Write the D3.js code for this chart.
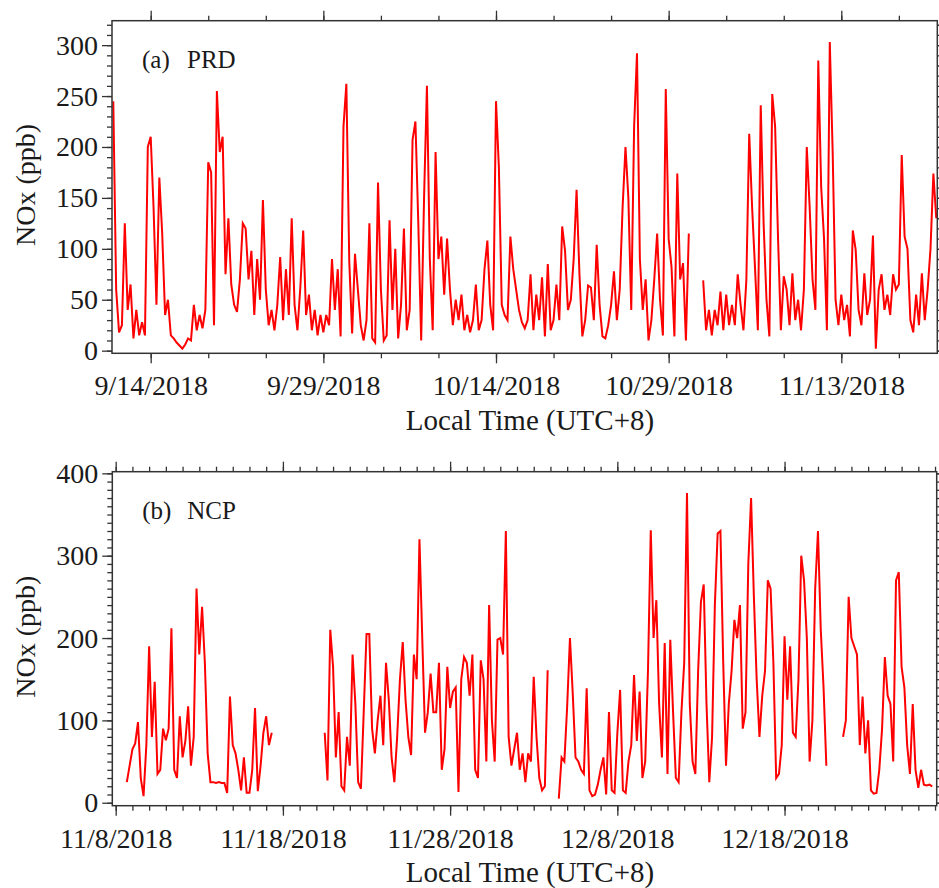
<!DOCTYPE html>
<html>
<head>
<meta charset="utf-8">
<script src="https://cdn.jsdelivr.net/npm/d3@7"></script>
<style>
  body { margin: 0; background: #fff; }
  svg text { font-family: "Liberation Serif", "Times New Roman", serif; fill: #1a1a1a; }
</style>
</head>
<body>
<div id="chart"></div>
<script>
// PRD hourly NOx, read every 6 h off the figure
const prdStart = "2018-09-10T18:00:00Z";
const prdStepHours = 6;
const prdNOx = [
  245, 60, 18, 25, 125, 40, 65, 12, 40, 15,
  28, 15, 200, 210, 140, 45, 170, 115, 35, 50,
  15, 12, 8, 5, 2, 6, 12, 10, 45, 20,
  35, 22, 40, 185, 175, 25, 255, 195, 210, 75,
  130, 65, 45, 38, 70, 125, 120, 70, 98, 35,
  90, 50, 148, 60, 25, 40, 20, 45, 92, 30,
  80, 35, 130, 45, 20, 62, 118, 35, 55, 20,
  40, 15, 35, 18, 35, 25, 90, 40, 80, 14,
  220, 262, 88, 17, 95, 60, 25, 10, 30, 125,
  12, 8, 165, 60, 10, 15, 128, 40, 100, 12,
  45, 120, 20, 40, 207, 225, 125, 10, 150, 260,
  90, 20, 195, 90, 112, 55, 110, 60, 25, 50,
  30, 55, 20, 35, 18, 30, 65, 20, 30, 80,
  108, 45, 20, 245, 180, 45, 35, 30, 112, 80,
  60, 40, 28, 22, 30, 75, 20, 55, 30, 72,
  14, 85, 20, 30, 65, 30, 122, 98, 40, 50,
  90, 158, 75, 14, 30, 64, 62, 30, 104, 45,
  14, 12, 25, 45, 78, 30, 60, 141, 200, 150,
  40, 220, 292, 90, 40, 70, 10, 30, 70, 115,
  50, 15, 257, 110, 82, 14, 174, 70, 86, 10,
  115, null, null, null, null, 69, 20, 40, 15, 40,
  25, 58, 20, 55, 25, 45, 25, 75, 45, 20,
  69, 213, 141, 82, 20, 241, 125, 50, 14, 252,
  220, 112, 20, 73, 60, 25, 76, 30, 50, 20,
  60, 200, 141, 70, 40, 285, 161, 110, 20, 303,
  195, 50, 25, 55, 30, 45, 14, 118, 99, 40,
  25, 76, 35, 50, 113, 2, 60, 75, 40, 55,
  35, 75, 60, 65, 192, 112, 100, 30, 18, 55,
  25, 76, 30, 60, 100, 174, 130
];

// NCP hourly NOx, read every 4 h off the figure
const ncpStart = "2018-11-08T16:00:00Z";
const ncpStepHours = 4;
const ncpNOx = [
  25, 45, 65, 72, 98, 30, 8, 70, 190, 80,
  147, 35, 40, 90, 76, 90, 212, 40, 30, 105,
  55, 75, 117, 45, 80, 260, 180, 238, 170, 60,
  25, 25, 24, 25, 24, 24, 12, 129, 70, 60,
  40, 15, 55, 12, 12, 40, 115, 14, 45, 85,
  105, 70, 85, null, null, null, null, null, null, null,
  null, null, null, null, null, null, null, null, null, null,
  null, 85, 27, 210, 165, 55, 110, 20, 15, 80,
  45, 180, 120, 25, 17, 110, 205, 205, 90, 60,
  100, 130, 70, 170, 125, 55, 25, 80, 150, 195,
  125, 80, 58, 180, 150, 320, 200, 85, 110, 157,
  110, 110, 170, 40, 65, 165, 115, 135, 140, 13,
  150, 177, 170, 130, 180, 40, 30, 173, 150, 50,
  240, 100, 50, 198, 200, 180, 330, 80, 45, 65,
  85, 40, 60, 25, 60, 50, 153, 80, 30, 15,
  20, 161, null, null, null, 5, 55, 50, 117, 200,
  133, 55, 50, 40, 35, 139, 15, 8, 10, 22,
  40, 55, 10, 110, 15, 12, 84, 137, 15, 12,
  50, 70, 155, 75, 135, 30, 50, 160, 331, 200,
  246, 120, 55, 194, 35, 198, 110, 30, 25, 110,
  170, 376, 120, 50, 35, 160, 244, 265, 120, 25,
  80, 240, 327, 330, 170, 45, 120, 160, 222, 200,
  240, 90, 110, 290, 370, 250, 150, 80, 130, 160,
  270, 260, 170, 30, 35, 70, 202, 125, 190, 85,
  80, 150, 300, 270, 200, 50, 100, 260, 330, 210,
  140, 45, null, null, null, null, null, 80, 100, 250,
  200, 190, 180, 70, 129, 60, 100, 15, 11, 12,
  40, 90, 177, 130, 120, 50, 270, 280, 165, 140,
  70, 35, 120, 40, 18, 40, 22, 21, 22, 20
];

const prdTickDates = ["2018-09-14", "2018-09-29", "2018-10-14", "2018-10-29", "2018-11-13"];
const ncpTickDates = ["2018-11-08", "2018-11-18", "2018-11-28", "2018-12-08", "2018-12-18"];
const prdYTicks = [0, 50, 100, 150, 200, 250, 300];
const ncpYTicks = [0, 100, 200, 300, 400];

function toSeries(start, stepHours, values) {
  const t0 = new Date(start).getTime();
  return values.map((v, i) => ({ date: new Date(t0 + i * stepHours * 3600e3), value: v }));
}

const fmtDate = d => `${d.getUTCMonth() + 1}/${d.getUTCDate()}/${d.getUTCFullYear()}`;

const svg = d3.select("#chart").append("svg")
  .attr("width", 939)
  .attr("height", 888);

function drawPanel(o) {
  const x = d3.scaleUtc().domain(o.xDomain).range([o.left, o.right]);
  const y = d3.scaleLinear().domain(o.yDomain).range([o.bottom, o.top]);
  const g = svg.append("g");

  const majors = o.tickDates.map(s => new Date(s + "T00:00:00Z"));
  const minors = d3.range(-20, 80)
    .map(k => d3.utcDay.offset(majors[0], k * o.minorDays))
    .filter(d => d >= o.xDomain[0] && d <= o.xDomain[1]);
  const minorY = d3.range(0, o.yDomain[1], 10);

  const style = sel => sel
    .attr("color", "#333")
    .attr("font-family", "Liberation Serif, serif")
    .attr("font-size", 28)
    .call(a => a.select(".domain").remove())
    .call(a => a.selectAll("line").attr("stroke-width", 1.3));

  // bottom / top time axes
  g.append("g").attr("transform", `translate(0,${o.bottom})`)
    .call(d3.axisBottom(x).tickValues(minors).tickSize(5).tickFormat(""))
    .call(style);
  g.append("g").attr("transform", `translate(0,${o.bottom})`)
    .call(d3.axisBottom(x).tickValues(majors).tickSize(10).tickPadding(12).tickFormat(fmtDate))
    .call(style);
  g.append("g").attr("transform", `translate(0,${o.top})`)
    .call(d3.axisTop(x).tickValues(minors).tickSize(5).tickFormat(""))
    .call(style);
  g.append("g").attr("transform", `translate(0,${o.top})`)
    .call(d3.axisTop(x).tickValues(majors).tickSize(10).tickFormat(""))
    .call(style);

  // left / right value axes
  g.append("g").attr("transform", `translate(${o.left},0)`)
    .call(d3.axisLeft(y).tickValues(minorY).tickSize(5).tickFormat(""))
    .call(style);
  g.append("g").attr("transform", `translate(${o.left},0)`)
    .call(d3.axisLeft(y).tickValues(o.yTicks).tickSize(10).tickPadding(4))
    .call(style);
  g.append("g").attr("transform", `translate(${o.right},0)`)
    .call(d3.axisRight(y).tickValues(minorY).tickSize(3).tickFormat(""))
    .call(style);
  g.append("g").attr("transform", `translate(${o.right},0)`)
    .call(d3.axisRight(y).tickValues(o.yTicks).tickSize(6).tickFormat(""))
    .call(style);

  const clipId = "clip-" + o.name;
  svg.append("clipPath").attr("id", clipId)
    .append("rect")
    .attr("x", o.left).attr("y", o.top)
    .attr("width", o.right - o.left).attr("height", o.bottom - o.top);

  const line = d3.line()
    .defined(d => d.value != null)
    .x(d => x(d.date))
    .y(d => y(d.value));

  g.append("path")
    .datum(o.series)
    .attr("clip-path", `url(#${clipId})`)
    .attr("fill", "none")
    .attr("stroke", "#ff0000")
    .attr("stroke-width", 2)
    .attr("d", line);

  g.append("rect")
    .attr("x", o.left).attr("y", o.top)
    .attr("width", o.right - o.left).attr("height", o.bottom - o.top)
    .attr("fill", "none")
    .attr("stroke", "#333")
    .attr("stroke-width", 1.5);

  g.append("text")
    .attr("x", o.left + 30).attr("y", o.top + 47)
    .attr("font-size", 25)
    .text(o.tag);
  g.append("text")
    .attr("x", o.left + 75).attr("y", o.top + 47)
    .attr("font-size", 25)
    .text(o.name);

  g.append("text")
    .attr("transform", `translate(35,${(o.top + o.bottom) / 2 - 2}) rotate(-90)`)
    .attr("text-anchor", "middle")
    .attr("font-size", 28)
    .text("NOx (ppb)");

  g.append("text")
    .attr("x", 530).attr("y", o.titleY)
    .attr("text-anchor", "middle")
    .attr("font-size", 29)
    .text("Local Time (UTC+8)");
}

drawPanel({
  name: "PRD", tag: "(a)",
  series: toSeries(prdStart, prdStepHours, prdNOx),
  left: 112, right: 937.3, top: 20.7, bottom: 353.3,
  xDomain: [new Date(Date.UTC(2018, 8, 10, 15, 19)), new Date(Date.UTC(2018, 10, 21, 8, 10))],
  yDomain: [-2.6, 324],
  tickDates: prdTickDates, minorDays: 5,
  yTicks: prdYTicks,
  titleY: 430
});

drawPanel({
  name: "NCP", tag: "(b)",
  series: toSeries(ncpStart, ncpStepHours, ncpNOx),
  left: 112.3, right: 936.7, top: 471.7, bottom: 805.7,
  xDomain: [new Date(Date.UTC(2018, 10, 7, 19, 8)), new Date(Date.UTC(2018, 11, 27, 2, 24))],
  yDomain: [-3.6, 402],
  tickDates: ncpTickDates, minorDays: 1,
  yTicks: ncpYTicks,
  titleY: 882
});
</script>
</body>
</html>
